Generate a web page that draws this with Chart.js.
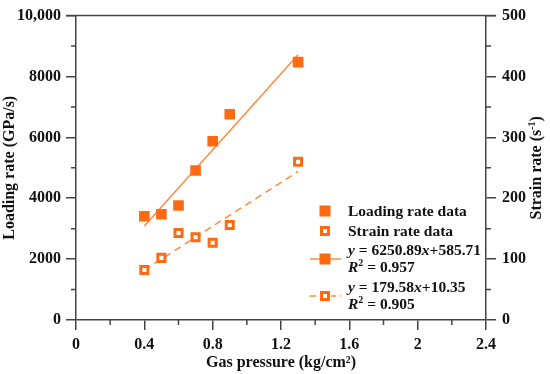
<!DOCTYPE html>
<html>
<head>
<meta charset="utf-8">
<script src="https://cdn.jsdelivr.net/npm/chart.js@4.4.1/dist/chart.umd.min.js"></script>
<style>
  html, body { margin: 0; padding: 0; background: #fff; }
  #wrap { width: 550px; height: 374px; }
</style>
</head>
<body>
<div id="wrap"><canvas id="loadchart" width="550" height="374"></canvas></div>
<script>
// gas pressure (kg/cm2)
var pressure = [0.4, 0.5, 0.6, 0.7, 0.8, 0.9, 1.3];
// loading rate (GPa/s), left axis
var loadingRate = [3410, 3475, 3760, 4910, 5870, 6760, 8470];
// strain rate (1/s), right axis
var strainRate = [82, 102, 143, 136, 127, 156, 260];

// fitted lines, end points
var fitX = [0.4, 1.3];
var loadingFit = [3090, 8710];
var strainFit = [82, 244];

var xTickLabels = [0, 0.4, 0.8, 1.2, 1.6, 2, 2.4];
var yTickLabels = [0, 2000, 4000, 6000, 8000, 10000];
var y2TickLabels = [0, 100, 200, 300, 400, 500];

var orange = "#ff6a10";
var fitOrange = "#ff8a3d";
var axisColor = "#444";
var fontFam = "'Liberation Serif', 'Times New Roman', serif";

function midpoints(arr) {
  var out = [];
  for (var i = 0; i < arr.length - 1; i++) out.push((arr[i] + arr[i + 1]) / 2);
  return out;
}
function pts(xs, ys) {
  return xs.map(function (x, i) { return { x: x, y: ys[i] }; });
}

var minorTicks = {
  x: midpoints(xTickLabels),
  y: midpoints(yTickLabels),
  y2: midpoints(y2TickLabels)
};

// minor ticks, box top line, right axis title and the legend
var extras = {
  id: "extras",
  afterDraw: function (chart) {
    var c = chart.ctx;
    var area = chart.chartArea;
    var sx = chart.scales.x, sy = chart.scales.y, sy2 = chart.scales.y2;
    c.save();
    c.strokeStyle = axisColor;
    c.lineWidth = 1.5;
    c.beginPath();
    minorTicks.x.forEach(function (v) {
      var px = sx.getPixelForValue(v);
      c.moveTo(px, area.bottom); c.lineTo(px, area.bottom + 5);
    });
    minorTicks.y.forEach(function (v) {
      var py = sy.getPixelForValue(v);
      c.moveTo(area.left, py); c.lineTo(area.left - 5, py);
    });
    minorTicks.y2.forEach(function (v) {
      var py = sy2.getPixelForValue(v);
      c.moveTo(area.right, py); c.lineTo(area.right + 5, py);
    });
    // top frame line
    c.moveTo(area.left - 10, area.top); c.lineTo(area.right + 10, area.top);
    c.stroke();

    // right axis title, reading upwards
    c.fillStyle = "#111";
    c.font = "bold 16px " + fontFam;
    c.translate(537, (area.top + area.bottom) / 2);
    c.rotate(-Math.PI / 2);
    c.textBaseline = "middle";
    var t1 = "Strain rate (s", t2 = "-1", t3 = ")";
    var w1 = c.measureText(t1).width;
    c.font = "bold 10px " + fontFam;
    var w2 = c.measureText(t2).width;
    c.font = "bold 16px " + fontFam;
    var w3 = c.measureText(t3).width;
    var sx0 = -(w1 + w2 + w3) / 2;
    c.textAlign = "left";
    c.fillText(t1, sx0, 0);
    c.font = "bold 10px " + fontFam;
    c.fillText(t2, sx0 + w1, -5);
    c.font = "bold 16px " + fontFam;
    c.fillText(t3, sx0 + w1 + w2, 0);
    c.restore();

    // legend
    c.save();
    var lx = area.left + 249, tx = area.left + 272;
    var fs = 15.5;
    function filledSq(x, y) {
      c.fillStyle = orange;
      c.fillRect(x - 5.5, y - 5.5, 11, 11);
    }
    function hollowSq(x, y) {
      c.strokeStyle = orange;
      c.lineWidth = 3;
      c.strokeRect(x - 3.5, y - 3.5, 7, 7);
    }
    function runs(parts, x, y) {
      parts.forEach(function (p) {
        c.font = (p.it ? "italic " : "") + "bold " + (p.sz || fs) + "px " + fontFam;
        c.fillText(p.t, x, y + (p.dy || 0));
        x += c.measureText(p.t).width;
      });
    }
    c.textBaseline = "alphabetic";
    filledSq(lx, 211);
    hollowSq(lx, 231);
    c.fillStyle = "#111";
    runs([{ t: "Loading rate data" }], tx, 216);
    runs([{ t: "Strain rate data" }], tx, 236);

    c.strokeStyle = fitOrange;
    c.lineWidth = 1.5;
    c.beginPath(); c.moveTo(lx - 15, 259); c.lineTo(lx + 16, 259); c.stroke();
    filledSq(lx, 259);
    c.setLineDash([6, 4]);
    c.strokeStyle = fitOrange;
    c.lineWidth = 1.5;
    c.beginPath(); c.moveTo(lx - 15, 296); c.lineTo(lx + 16, 296); c.stroke();
    c.setLineDash([]);
    c.fillStyle = "#fff";
    c.fillRect(lx - 6, 290, 12, 12);
    hollowSq(lx, 296);

    c.fillStyle = "#111";
    runs([{ t: "y", it: true }, { t: " = 6250.89" }, { t: "x", it: true }, { t: "+585.71" }], tx, 255);
    runs([{ t: "R", it: true }, { t: "2", sz: 10, dy: -6 }, { t: " = 0.957" }], tx, 272);
    runs([{ t: "y", it: true }, { t: " = 179.58" }, { t: "x", it: true }, { t: "+10.35" }], tx, 292);
    runs([{ t: "R", it: true }, { t: "2", sz: 10, dy: -6 }, { t: " = 0.905" }], tx, 309);
    c.restore();
  }
};

var ctx = document.getElementById("loadchart").getContext("2d");
var chart = new Chart(ctx, {
  type: "scatter",
  data: {
    datasets: [
      {
        label: "Loading rate data",
        data: pts(pressure, loadingRate),
        pointStyle: "rect",
        pointRadius: 7.5,
        backgroundColor: orange,
        borderColor: orange,
        borderWidth: 0,
        yAxisID: "y"
      },
      {
        label: "Strain rate data",
        data: pts(pressure, strainRate),
        pointStyle: "rect",
        pointRadius: 5,
        backgroundColor: "#fff",
        borderColor: orange,
        borderWidth: 3,
        yAxisID: "y2"
      },
      {
        label: "Loading fit",
        type: "line",
        data: pts(fitX, loadingFit),
        borderColor: fitOrange,
        borderWidth: 1.5,
        pointRadius: 0,
        fill: false,
        yAxisID: "y"
      },
      {
        label: "Strain fit",
        type: "line",
        data: pts(fitX, strainFit),
        borderColor: fitOrange,
        borderWidth: 1.5,
        borderDash: [7, 5],
        pointRadius: 0,
        fill: false,
        yAxisID: "y2"
      }
    ]
  },
  options: {
    responsive: false,
    animation: false,
    layout: { padding: { top: 15, left: 0, right: 0, bottom: 0 } },
    plugins: {
      legend: { display: false },
      tooltip: { enabled: false }
    },
    scales: {
      x: {
        type: "linear",
        min: 0,
        max: 2.4,
        afterBuildTicks: function (s) {
          s.ticks = xTickLabels.map(function (v) { return { value: v }; });
        },
        afterFit: function (s) { s.height = 54; },
        border: { display: true, color: axisColor, width: 1.5 },
        grid: { drawOnChartArea: false, drawTicks: true, tickLength: 10, color: axisColor, lineWidth: 1.5 },
        ticks: {
          color: "#111",
          padding: 5,
          maxRotation: 0,
          font: { family: fontFam, size: 16, weight: "bold" },
          callback: function (v) { return String(Math.round(v * 10) / 10); }
        },
        title: {
          display: true,
          text: "Gas pressure (kg/cm²)",
          color: "#111",
          padding: { top: 0, bottom: 2 },
          font: { family: fontFam, size: 16, weight: "bold" }
        }
      },
      y: {
        type: "linear",
        position: "left",
        min: 0,
        max: 10000,
        afterBuildTicks: function (s) {
          s.ticks = yTickLabels.map(function (v) { return { value: v }; });
        },
        afterFit: function (s) { s.width = 76; },
        border: { display: true, color: axisColor, width: 1.5 },
        grid: { drawOnChartArea: false, drawTicks: true, tickLength: 10, color: axisColor, lineWidth: 1.5 },
        ticks: {
          color: "#111",
          padding: 5,
          font: { family: fontFam, size: 16, weight: "bold" },
          callback: function (v) { return v === 10000 ? "10,000" : String(v); }
        },
        title: {
          display: true,
          text: "Loading rate (GPa/s)",
          color: "#111",
          padding: { top: 0, bottom: 0 },
          font: { family: fontFam, size: 16, weight: "bold" }
        }
      },
      y2: {
        type: "linear",
        position: "right",
        min: 0,
        max: 500,
        afterBuildTicks: function (s) {
          s.ticks = y2TickLabels.map(function (v) { return { value: v }; });
        },
        afterFit: function (s) { s.width = 64; },
        border: { display: true, color: axisColor, width: 1.5 },
        grid: { drawOnChartArea: false, drawTicks: true, tickLength: 10, color: axisColor, lineWidth: 1.5 },
        ticks: {
          color: "#111",
          padding: 6,
          font: { family: fontFam, size: 16, weight: "bold" }
        }
      }
    }
  },
  plugins: [extras]
});
</script>
</body>
</html>
